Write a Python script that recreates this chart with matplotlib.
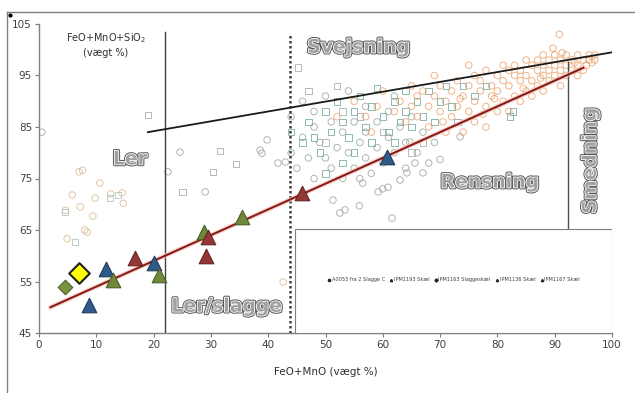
import matplotlib
matplotlib.use("Agg")
import matplotlib.pyplot as plt
import matplotlib.patheffects as pe
from matplotlib.lines import Line2D
from matplotlib.patches import Rectangle

# ---------------- data ----------------
x_ticks = [0, 10, 20, 30, 40, 50, 60, 70, 80, 90, 100]
y_ticks = [45, 55, 65, 75, 85, 95, 105]

orange_x = [62, 63, 64, 65, 66, 66, 67, 68, 68, 69, 70, 70, 71, 72, 72, 73, 73, 74, 75, 75,
            76, 76, 77, 77, 78, 78, 79, 79, 80, 80, 81, 81, 81, 82, 82, 83, 83, 83, 84, 84,
            85, 85, 85, 86, 86, 87, 87, 87, 88, 88, 88, 89, 89, 89, 90, 90, 90, 91, 91, 92,
            92, 92, 93, 93, 94, 94, 95, 95, 96, 96, 97, 97, 86, 84, 80, 76, 74, 71, 78, 82,
            88, 91, 94, 69, 75, 90.8, 89.7, 91.3, 65, 59, 57, 55, 60, 52, 58, 93.5, 95.5, 96.5,
            87.5, 84.5, 79.5, 77.5, 73.5, 70.5]
orange_y = [88, 90, 86, 89, 91, 87, 92, 89, 85, 91, 93, 88, 90, 92, 87, 94, 89, 91, 93, 88,
            95, 90, 92, 94, 89, 96, 93, 91, 95, 92, 97, 94, 90, 96, 93, 95, 97, 91, 94, 96,
            98, 95, 92, 97, 94, 96, 98, 93, 95, 97, 99, 96, 94, 98, 97, 95, 99, 96, 98, 97,
            95, 99, 98, 96, 97, 99, 98, 96, 98, 99, 98, 99, 91, 90, 88, 86, 84, 84, 85, 88,
            92, 93, 95, 95, 97, 103, 100.3, 99.4, 93, 89, 87, 90, 92, 87, 84, 97.5, 97, 97.5,
            94.5, 92.5, 90.5, 87.5, 90.5, 86]

teal_x = [47, 48, 50, 51, 52, 53, 54, 55, 56, 57, 58, 59, 60, 61, 62, 63, 64, 65, 66, 67,
          68, 70, 72, 74, 76, 58, 55, 49, 53, 44, 46, 50, 62, 69, 71, 78, 82.2, 82.7, 73, 64]
teal_y = [86, 83, 88, 84, 90, 86, 83, 88, 91, 85, 89, 92.6, 87, 84, 90, 86, 88, 85, 90, 87,
          92, 90, 89, 93, 91, 82, 80, 80, 78, 84, 82, 76, 82, 86, 93, 93, 87, 88, 86, 92]

grey_x = [44, 45, 46, 47, 48, 48, 49, 50, 51, 51, 52, 53, 53, 54, 55, 55, 56, 57, 57, 58,
          59, 59, 60, 61, 61, 62, 63, 64, 64, 65, 66, 67, 68, 69, 46, 50, 54, 56, 60, 51.3,
          52.5, 53.4, 55.9, 61.6, 56.5, 59.2, 60.9, 70, 67, 63, 64.2, 65.6, 73.5, 64.7, 41.7, 43,
          38.6, 38.9, 39.8, 24.6, 29, 22.5, 0.5, 57, 62, 48, 44]
grey_y = [80, 77, 83, 79, 85, 75, 82, 79, 86, 77, 81, 84, 75, 80, 86, 77, 82, 79, 84, 76,
          81, 86, 78, 83, 88, 80, 85, 77, 82, 87, 80, 84, 78, 82, 90, 91, 92, 75, 73, 70.8,
          68.3, 68.9, 69.7, 67.3, 74.1, 72.4, 73.3, 78.7, 76.1, 74.7, 76.1, 78, 83.1, 82.1, 78, 78.2,
          80.5, 79.9, 82.5, 80.1, 72.4, 76.3, 84.0, 89, 91, 88, 87]

greysq_x = [45.2, 31.6, 34.4, 30.4, 25, 19, 47, 52, 50, 56, 60, 65, 67, 53]
greysq_y = [96.6, 80.3, 77.8, 76.3, 72.4, 87.3, 92, 93, 82, 87, 84, 80, 82, 88]

tan_x = [7.0, 7.6, 10.6, 5.8, 7.2, 9.8, 9.4, 14.7, 8.0, 8.4, 4.9, 14.5, 4.6, 12.5, 42.6]
tan_y = [76.3, 76.6, 74.1, 71.8, 69.5, 71.2, 67.7, 70.2, 65.0, 64.6, 63.3, 72.2, 68.8, 72.0, 54.9]

lsq_x = [4.5, 6.3, 12.4, 13.8]
lsq_y = [68.5, 62.7, 71.2, 71.8]

# filled series
yellow_x = [7.0]
yellow_y = [56.6]
green_d_x = [4.6]
green_d_y = [53.9]
blue_tri_x = [8.8, 11.7, 20.1, 60.7]
blue_tri_y = [50.4, 57.4, 58.6, 79.2]
olive_tri_x = [13.0, 21.0, 28.8, 35.4]
olive_tri_y = [55.3, 56.3, 64.6, 67.5]
red_tri_x = [16.8, 29.5, 29.1, 45.9]
red_tri_y = [59.6, 63.6, 60.0, 72.2]

# trend lines (end points)
red_line_x = [2, 95]
red_line_y = [50, 96.5]
black_line_x = [19, 100]
black_line_y = [84, 99.5]

legend_labels = ["A0053 fra 2 Slagge C", "IPM1193 Skæl", "IPM1163 Slaggeskæl",
                 "IPM1136 Skæl", "IPM1167 Skæl"]

# ---------------- figure ----------------
fig = plt.figure(figsize=(6.35, 3.93), dpi=100)
ax = fig.add_axes([39/635, 1-333/393, 573/635, (333-24)/393])
ax.set_xlim(0, 100)
ax.set_ylim(45, 105)

for s in ["top", "right"]:
    ax.spines[s].set_visible(False)
for s in ["left", "bottom"]:
    ax.spines[s].set_color("#7f7f7f")
    ax.spines[s].set_linewidth(1.0)
ax.set_xticks(x_ticks)
ax.set_yticks(y_ticks)
ax.tick_params(axis="both", direction="out", length=3, width=0.8, color="#7f7f7f",
               labelsize=7.5, labelcolor="#404040", pad=2)

# background scatter
kw = dict(facecolors="none", linewidths=0.7, s=22, zorder=2)
ax.scatter(tan_x, tan_y, marker="o", edgecolors="#d8b890", alpha=0.8, **kw)
ax.scatter(lsq_x, lsq_y, marker="s", edgecolors="#a9c4b8", alpha=0.8, **kw)
ax.scatter(grey_x, grey_y, marker="o", edgecolors="#9fa9a4", alpha=0.85, **kw)
ax.scatter(greysq_x, greysq_y, marker="s", edgecolors="#a8aeac", alpha=0.85, **kw)
ax.scatter(teal_x, teal_y, marker="s", edgecolors="#6fa89c", alpha=0.8, **kw)
ax.scatter(orange_x, orange_y, marker="o", edgecolors="#eaa06a", alpha=0.8, clip_on=False, **kw)

# vertical region lines
ax.plot([22, 22], [45, 103.5], color="#404040", lw=1.0, zorder=3)
ax.plot([43.8, 43.8], [45, 103], color="#404040", lw=1.8, ls=(0, (1, 1)), zorder=3)
ax.plot([92.4, 92.4], [45, 97.6], color="#505050", lw=1.0, zorder=3)

# trend lines
ax.plot(red_line_x, red_line_y, color="#8b1a1a", lw=1.5, zorder=4,
        path_effects=[pe.Stroke(linewidth=3.5, foreground="#f4c8b8", alpha=0.6), pe.Normal()])
ax.plot(black_line_x, black_line_y, color="#1a1a1a", lw=1.3, zorder=4)

# legend box
ax.add_patch(Rectangle((44.7, 45), 100 - 44.7, 20.2, fill=True, facecolor="white",
                       edgecolor="#7f7f7f", lw=0.8, zorder=3))

# filled markers
ax.scatter(green_d_x, green_d_y, marker="D", s=55, color="#77933c", edgecolors="#4f6228",
           linewidths=0.8, zorder=6)
ax.scatter(yellow_x, yellow_y, marker="D", s=110, color="#ffff00", edgecolors="#202020",
           linewidths=1.5, zorder=6)
ax.scatter(blue_tri_x, blue_tri_y, marker="^", s=110, color="#2f5a8a", edgecolors="#1f3a5a",
           linewidths=0.8, zorder=6)
ax.scatter(olive_tri_x, olive_tri_y, marker="^", s=110, color="#6e8a3a", edgecolors="#4a5f25",
           linewidths=0.8, zorder=6)
ax.scatter(red_tri_x, red_tri_y, marker="^", s=110, color="#953735", edgecolors="#632523",
           linewidths=0.8, zorder=6)

# legend entries (tiny)
mk = ["o", "^", "D", "^", "^"]
handles = [Line2D([], [], marker=m, color="#202020", ls="none", markersize=1.6) for m in mk]
leg = ax.legend(handles, legend_labels, ncol=5, fontsize=3.6, frameon=False, loc="center",
                bbox_to_anchor=(72.4, 55.3), bbox_transform=ax.transData,
                handletextpad=0.2, columnspacing=1.0, handlelength=0.6, borderpad=0)
leg.set_zorder(7)
for t in leg.get_texts():
    t.set_color("#404040")

# region labels with outlined text
effects = [pe.Stroke(linewidth=2.6, foreground="#555555"),
           pe.Stroke(linewidth=1.2, foreground="white"), pe.Normal()]
tkw = dict(fontsize=13.5, fontweight="bold", family="DejaVu Sans", color="#a0a0a0",
           path_effects=effects, ha="center", va="center", zorder=8)
ax.text(55.8, 100.5, "Svejsning", **tkw)
ax.text(15.9, 78.8, "Ler", **tkw)
ax.text(78.7, 74.3, "Rensning", **tkw)
ax.text(32.8, 50.2, "Ler/slagge", **tkw)
ax.text(96.2, 78.5, "Smedning", rotation=90, **tkw)

# axis titles
ax.text(11.7, 101.0, "FeO+MnO+SiO$_2$\n(vægt %)", fontsize=7, ha="center", va="center",
        color="#303030", linespacing=1.3, zorder=8)
ax.set_xlabel("FeO+MnO (vægt %)", fontsize=7.5, color="#303030", labelpad=12)

# chart-area border fragments
fig.add_artist(Line2D([7/635, 1.0], [1-12/393, 1-12/393], color="#7f7f7f", lw=1.0))
fig.add_artist(Line2D([7/635, 7/635], [0, 1-12/393], color="#7f7f7f", lw=1.0))
fig.add_artist(Line2D([10/635], [1-15/393], marker="o", color="black", markersize=2))

fig.savefig("out.png", dpi=100)
